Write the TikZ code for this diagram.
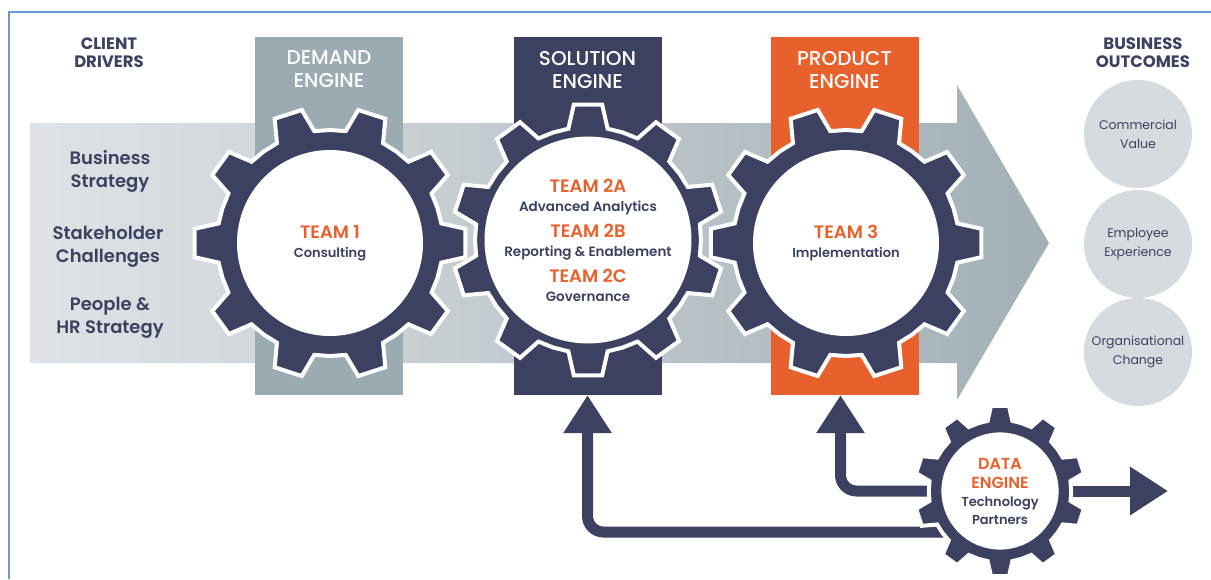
\documentclass[tikz,border=0pt]{standalone}
\usepackage{fontspec}
\setmainfont{Poppins}
\newfontfamily\semib{Poppins SemiBold}
\newfontfamily\medium{Poppins Medium}
\usetikzlibrary{arrows.meta,positioning,calc}

\definecolor{navy}{HTML}{3D4161}
\definecolor{flame}{HTML}{E8612C}
\definecolor{slate}{HTML}{9AACB2}
\definecolor{bandlight}{HTML}{DFE3E6}
\definecolor{banddark}{HTML}{A2B0B6}
\definecolor{bubble}{HTML}{D6DBDF}
\definecolor{frame}{HTML}{6A98D6}

\newcommand{\tname}[1]{{\color{flame}\fontsize{18}{19}\selectfont #1}}
\newcommand{\dname}[1]{{\color{flame}\fontsize{16}{18.5}\selectfont #1}}
\newcommand{\gear}[5]{%
  \filldraw[fill=navy, draw=white, line width=4pt, shift={(#2)}, scale=#3]
    ({#4-18}:113) \foreach \i in {0,...,9}{
      -- ({#4+36*\i-10}:113) -- ({#4+36*\i-6}:136) -- ({#4+36*\i+6}:136)
      -- ({#4+36*\i+10}:113) -- ({#4+36*\i+18}:113)} -- cycle;
  \node[hub, minimum size=#3*186pt] (#1) at (#2) {#5};
}

\begin{document}
\begin{tikzpicture}[
    x=1pt, y=-1pt,
    every node/.style={text=navy},
    heading/.style={align=center, font=\bfseries\fontsize{16.5}{18}\selectfont},
    driver/.style={align=center, font=\semib\fontsize{18}{23}\selectfont},
    column/.style={minimum width=148pt, minimum height=358pt, inner sep=0pt},
    colhead/.style={text=white, align=center, inner sep=0pt, font=\medium\fontsize{20}{23}\selectfont},
    hub/.style={circle, fill=white, inner sep=0pt, align=center, font=\semib\fontsize{13.5}{19}\selectfont},
    outcome/.style={circle, fill=bubble, minimum size=108pt, inner sep=0pt, align=center, font=\fontsize{12.5}{19}\selectfont},
    arr/.style={line width=11pt, draw=navy, rounded corners=16pt, -{Triangle[length=38pt, width=46pt]}}
]
\useasboundingbox (0,0) rectangle (1211,579);
\draw[frame, line width=2pt] (8.5,579) -- (8.5,12) -- (1211,12);

\node[heading] (drivers) at (109,53) {CLIENT\\DRIVERS};
\node[heading] (outcomes) at (1143,53) {BUSINESS\\OUTCOMES};

\shade[left color=bandlight, right color=banddark]
  (30,123) -- (957,123) -- (957,85) -- (1049,243) -- (957,400) -- (957,363) -- (30,363) -- cycle;

\node[driver] (strategy) at (110,171) {Business\\Strategy};
\node[driver] (stake) at (108,247) {Stakeholder\\Challenges};
\node[driver] (people) at (110,318) {People \&\\HR Strategy};

\node[column, fill=slate] (demand) at (329,216) {};
\node[column, fill=navy] (solution) at (587.5,216) {};
\node[column, fill=flame] (product) at (844.5,216) {};
\node[colhead, below=14pt of demand.north] {DEMAND\\ENGINE};
\node[colhead, below=14pt of solution.north] {SOLUTION\\ENGINE};
\node[colhead, below=14pt of product.north] {PRODUCT\\ENGINE};

\coordinate (out) at (1168,491);
\draw[arr] (1000,532) -| (solution.south);
\draw[arr] (1000,491) -| ($(product.south)+(-4,0)$);
\draw[arr] (1000,491) -- (out);

\gear{team1}{330,243}{1}{0}{\tname{TEAM 1}\\{\fontsize{13}{19}\selectfont Consulting}}
\gear{team2}{588,240}{1}{18}{\tname{TEAM 2A}\\Advanced Analytics\\[7pt]\tname{TEAM 2B}\\Reporting \& Enablement\\[7pt]\tname{TEAM 2C}\\Governance}
\gear{team3}{846,243}{1}{0}{\tname{TEAM 3}\\{\fontsize{13}{19}\selectfont Implementation}}
\gear{data}{1000,491}{0.63}{18}{\dname{DATA}\\\dname{ENGINE}\\[-1pt]{\fontsize{13}{18.5}\selectfont Technology}\\[-1pt]{\fontsize{13}{18.5}\selectfont Partners}}

\node[outcome] (value) at (1138,134) {Commercial\\Value};
\node[outcome] (experience) at (1138,244) {Employee\\Experience};
\node[outcome] (change) at (1138,352) {Organisational\\Change};
\end{tikzpicture}
\end{document}
